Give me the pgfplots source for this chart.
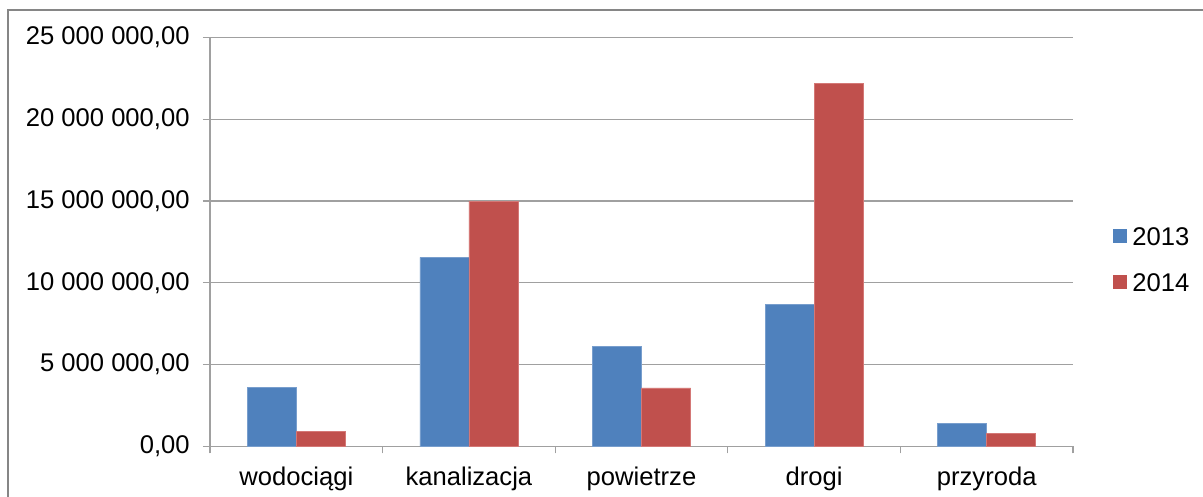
\documentclass[border=0pt]{standalone}
\usepackage{pgfplots}
\pgfplotsset{compat=1.18}
\usepackage{fontspec}
\setmainfont{Liberation Sans}
\definecolor{b13}{RGB}{79,129,189}
\definecolor{r14}{RGB}{192,80,77}
\definecolor{b13e}{RGB}{120,158,205}
\definecolor{r14e}{RGB}{212,120,118}
\definecolor{gridc}{RGB}{160,160,160}
\definecolor{framec}{RGB}{134,134,134}
\newcommand{\fsz}{\fontsize{12.8}{14.5}\selectfont}
\pgfplotstableread{
x v13 v14
0 3620000 920000
1 11560000 15000000
2 6140000 3580000
3 8690000 22200000
4 1420000 810000
}\datatab
\begin{document}
\begin{tikzpicture}
\path[use as bounding box] (-105pt,-25.25pt) rectangle (496.5pt,223.25pt);
\fill[white] (-105pt,-25.25pt) rectangle (496.5pt,223.25pt);
\draw[framec, line width=1.1pt] (-101pt,-40pt) rectangle (520pt,218.25pt);
\begin{axis}[
  at={(0pt,0pt)}, anchor=south west,
  scale only axis,
  width=431.5pt, height=204.5pt,
  ybar=0pt, bar width=24.5pt,
  xmin=-0.5, xmax=4.5,
  ymin=0, ymax=25000000,
  xtick={0,1,2,3,4},
  xticklabels={wodociągi,kanalizacja,powietrze,drogi,przyroda},
  minor xtick={-0.5,0.5,1.5,2.5,3.5,4.5},
  ytick={0,5000000,10000000,15000000,20000000,25000000},
  yticklabels={{0,00},{5 000 000,00},{10 000 000,00},{15 000 000,00},{20 000 000,00},{25 000 000,00}},
  scaled y ticks=false,
  axis x line*=bottom, axis y line*=left,
  axis line style={gridc, line width=0.6pt},
  tick align=outside,
  major tick length=3.5pt, minor tick length=3.5pt,
  tick style={gridc, line width=0.6pt},
  major x tick style={draw=none},
  ymajorgrids, grid style={gridc, line width=0.6pt},
  tick label style={font=\fsz, text=black},
  yticklabel style={inner sep=0pt, xshift=-6.5pt},
  xticklabel style={inner sep=0pt, yshift=-6.5pt},
  legend style={draw=none, fill=none, font=\fsz,
    at={(axis description cs:1.0463,0.537)}, anchor=north west,
    inner sep=0pt, row sep=12.5pt, column sep=2.5pt,
    nodes={inner sep=0pt}},
  legend cell align=left,
  legend image code/.code={\fill[#1, draw=none] (0pt,-2.7pt) rectangle (7pt,4.3pt);},
]
\addplot[fill=b13, draw=b13e, line width=0.4pt] table[x=x,y=v13]{\datatab};
\addlegendentry{2013}
\addplot[fill=r14, draw=r14e, line width=0.4pt] table[x=x,y=v14]{\datatab};
\addlegendentry{2014}
\end{axis}
\end{tikzpicture}
\end{document}
